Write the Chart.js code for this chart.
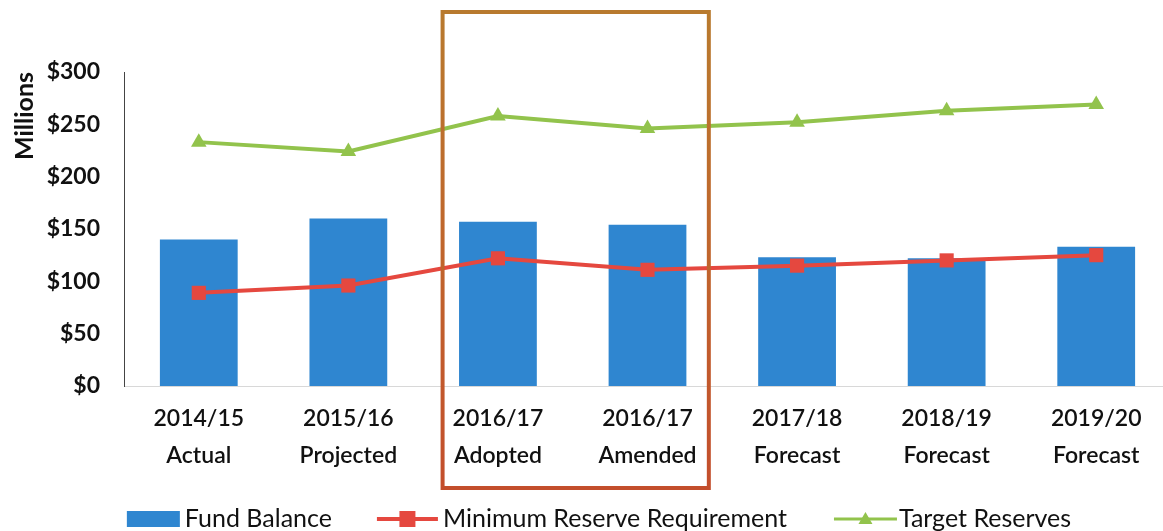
<!DOCTYPE html>
<html>
<head>
<meta charset="utf-8">
<script src="https://cdn.jsdelivr.net/npm/chart.js@4.4.1/dist/chart.umd.min.js"></script>
<style>
  html, body { margin: 0; padding: 0; background: #fff; overflow: hidden; }
  canvas { display: block; }
</style>
</head>
<body>
<canvas id="chart" width="1172" height="531" style="width:1172px;height:531px"></canvas>
<script>
// Data (millions of dollars)
const categories = [
    ['2014/15', 'Actual'], ['2015/16', 'Projected'], ['2016/17', 'Adopted'],
    ['2016/17', 'Amended'], ['2017/18', 'Forecast'], ['2018/19', 'Forecast'], ['2019/20', 'Forecast']
];
const fundBalance = [140, 160, 157, 154, 123, 122, 133];
const minimumReserve = [89, 96, 122, 111, 115, 120, 125];
const targetReserves = [233, 224, 258, 246, 252, 263, 269];
const yTicks = [0, 50, 100, 150, 200, 250, 300];

const BLUE = '#2f86d0';
const RED = '#e5483f';
const GREEN = '#92c34c';
const FONT = "Lato, 'Open Sans', sans-serif";

// outline box around the two 2016/17 columns
const highlightBox = {
    id: 'highlightBox',
    afterDraw(chart) {
        const x = chart.scales.x;
        const step = x.getPixelForValue(1) - x.getPixelForValue(0);
        const left = x.getPixelForValue(2) - step * 0.37;
        const right = x.getPixelForValue(3) + step * 0.41;
        const top = 12, bottom = 488;
        const ctx = chart.ctx;
        const grad = ctx.createLinearGradient(0, top, 0, bottom);
        grad.addColorStop(0, '#b87a2e');
        grad.addColorStop(0.5, '#c0652c');
        grad.addColorStop(1, '#c34e2c');
        ctx.save();
        ctx.strokeStyle = grad;
        ctx.lineWidth = 4;
        ctx.strokeRect(left, top, right - left, bottom - top);
        ctx.restore();
    }
};

// legend drawn below the axis: bar swatch, then line+marker symbols
const bottomLegend = {
    id: 'bottomLegend',
    afterDraw(chart) {
        const ctx = chart.ctx;
        const ds = chart.data.datasets;
        const items = [
            { kind: 'bar', color: ds[2].backgroundColor, text: ds[2].label, w: 53, gap: 5 },
            { kind: 'rect', color: ds[0].borderColor, text: ds[0].label, w: 61, gap: 5 },
            { kind: 'tri', color: ds[1].borderColor, text: ds[1].label, w: 63, gap: 2 }
        ];
        const spacing = [45, 47];
        ctx.save();
        ctx.font = '25px ' + FONT;
        let total = 0;
        items.forEach((it, i) => {
            it.tw = ctx.measureText(it.text).width;
            total += it.w + it.gap + it.tw + (i < spacing.length ? spacing[i] : 0);
        });
        let x = 599 - total / 2;
        const y = 519;
        items.forEach((it, i) => {
            ctx.fillStyle = it.color;
            ctx.strokeStyle = it.color;
            if (it.kind === 'bar') {
                ctx.fillRect(x, y - 8, it.w, 16);
            } else {
                ctx.lineWidth = it.kind === 'rect' ? 4 : 3;
                ctx.beginPath(); ctx.moveTo(x, y); ctx.lineTo(x + it.w, y); ctx.stroke();
                const cx = x + it.w / 2;
                ctx.beginPath();
                if (it.kind === 'rect') {
                    ctx.rect(cx - 8, y - 8, 16, 16);
                } else {
                    ctx.moveTo(cx, y - 7); ctx.lineTo(cx + 7, y + 5); ctx.lineTo(cx - 7, y + 5); ctx.closePath();
                }
                ctx.fill();
            }
            x += it.w + it.gap;
            ctx.fillStyle = '#111';
            ctx.textBaseline = 'middle';
            ctx.fillText(it.text, x, y);
            x += it.tw + (i < spacing.length ? spacing[i] : 0);
        });
        ctx.restore();
    }
};

const ctx = document.getElementById('chart').getContext('2d');
const chart = new Chart(ctx, {
    type: 'bar',
    data: {
        labels: categories,
        datasets: [
            {
                type: 'line',
                label: 'Minimum Reserve Requirement',
                data: minimumReserve,
                borderColor: RED,
                backgroundColor: RED,
                borderWidth: 4,
                pointStyle: 'rect',
                pointRadius: 10,
                pointBorderWidth: 0,
                tension: 0,
                order: 1
            },
            {
                type: 'line',
                label: 'Target Reserves',
                data: targetReserves,
                borderColor: GREEN,
                backgroundColor: GREEN,
                borderWidth: 4,
                pointStyle: 'triangle',
                pointRadius: 9,
                pointBorderWidth: 0,
                tension: 0,
                order: 1
            },
            {
                label: 'Fund Balance',
                data: fundBalance,
                backgroundColor: BLUE,
                barPercentage: 0.52,
                categoryPercentage: 1,
                order: 2
            }
        ]
    },
    options: {
        responsive: false,
        animation: false,
        layout: { autoPadding: false, padding: { top: 72, left: 0, right: 1, bottom: 45 } },
        plugins: {
            tooltip: { enabled: false },
            legend: { display: false }
        },
        scales: {
            x: {
                afterFit(axis) { axis.height = 100; },
                grid: { display: false, drawTicks: false },
                border: { display: true, color: '#d8d8d8', width: 1 },
                ticks: {
                    color: '#111',
                    padding: 15,
                    maxRotation: 0,
                    font: { family: FONT, size: 23, weight: '600', lineHeight: 1.57 }
                }
            },
            y: {
                min: 0,
                max: 300,
                afterBuildTicks(axis) { axis.ticks = yTicks.map(v => ({ value: v })); },
                afterFit(axis) { axis.width = 124; },
                grid: { display: false, drawTicks: false },
                border: { display: true, color: '#444', width: 1 },
                title: {
                    display: true,
                    text: 'Millions',
                    align: 'end',
                    color: '#111',
                    padding: { top: 10, bottom: 0 },
                    font: { family: FONT, size: 25, weight: 'bold' }
                },
                ticks: {
                    color: '#111',
                    padding: 24,
                    font: { family: FONT, size: 23, weight: 'bold' },
                    callback: v => '$' + v
                }
            }
        }
    },
    plugins: [highlightBox, bottomLegend]
});
</script>
</body>
</html>
